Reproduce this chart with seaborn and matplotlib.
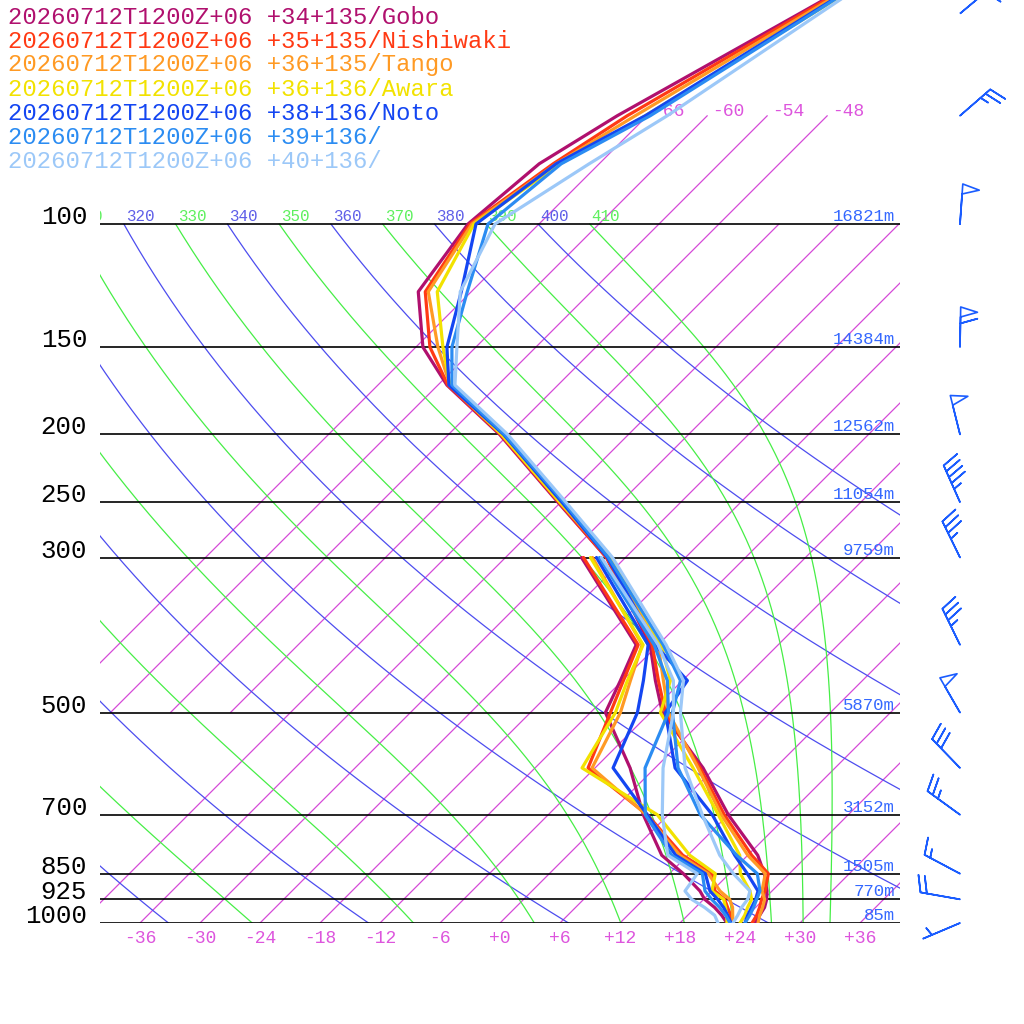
import numpy as np
import matplotlib
matplotlib.use("Agg")
import matplotlib.pyplot as plt
import seaborn as sns

sns.set_theme(style="white")
plt.rcParams['font.family'] = ['Liberation Mono', 'DejaVu Sans Mono']

# ---- data ----
run = "20260712T1200Z+06"
lats = ["+34", "+35", "+36", "+36", "+38", "+39", "+40"]
lons = ["+135", "+135", "+135", "+136", "+136", "+136", "+136"]
names = ["Gobo", "Nishiwaki", "Tango", "Awara", "Noto", "", ""]
colors = ["#b0106e", "#ff3a14", "#ff9a24", "#f2e200", "#1446f2", "#2b8cf2", "#9cc8f8"]

levels = [1000, 975, 950, 925, 900, 850, 800, 700, 600, 500, 450, 400,
          300, 250, 200, 170, 150, 125, 100, 82, 70, 50, 30]
dew_levels = levels[:13]

t_gobo = [25.5, 25.2, 24.9, 24.3, 23.5, 21.5, 19.0, 12.0, 4.8, -4.8, -8.7, -12.8,
          -25.9, -36.3, -48.9, -59.1, -65.3, -71.3, -73.1, -72.0, -69.0, -61.0, -49.0]
t_nishiwaki = [25.2, 24.9, 24.4, 23.8, 23.3, 21.9, 18.4, 11.6, 4.5, -4.5, -8.4, -12.6,
               -25.9, -36.2, -48.8, -59.0, -64.6, -70.6, -72.9, -70.6, -68.0, -60.7, -49.6]
t_tango = [25.8, 25.2, 24.7, 24.1, 23.0, 21.6, 18.0, 11.3, 4.3, -4.2, -7.9, -12.0,
           -25.7, -36.1, -48.7, -58.8, -63.8, -70.3, -72.7, -70.3, -67.2, -60.3, -49.9]
t_awara = [24.0, 23.7, 23.2, 22.8, 21.8, 19.1, 17.2, 11.0, 3.8, -5.0, -7.2, -11.7,
           -25.5, -36.1, -48.7, -58.8, -63.3, -69.4, -72.5, -69.9, -66.2, -59.7, -49.8]
t_noto = [24.5, 24.0, 23.6, 23.2, 22.6, 19.8, 16.7, 10.4, 2.0, -4.5, -5.5, -12.3,
          -25.8, -35.9, -48.5, -58.9, -62.9, -67.0, -72.3, -70.3, -66.2, -59.9, -50.4]
t_p39 = [24.5, 24.2, 23.8, 23.3, 22.8, 20.8, 16.9, 9.2, 2.3, -3.8, -6.2, -11.5,
         -25.7, -35.7, -48.4, -58.6, -62.4, -66.4, -71.1, -69.8, -65.7, -59.7, -50.6]
t_p40 = [23.3, 23.0, 22.6, 22.4, 21.8, 18.4, 15.2, 9.4, 3.0, -3.0, -5.9, -11.2,
         -25.3, -35.5, -48.1, -58.3, -61.9, -67.1, -70.4, -67.0, -64.0, -59.0, -51.3]

td_gobo = [22.7, 21.4, 19.9, 18.1, 16.8, 13.4, 9.4, 3.5, -2.5, -10.5, -12.2, -14.2, -28.4]
td_nishiwaki = [23.3, 22.3, 21.2, 20.1, 18.3, 16.3, 11.5, 3.9, -6.7, -10.0, -11.9, -14.0, -28.2]
td_tango = [23.3, 22.5, 21.7, 20.6, 18.8, 15.9, 11.2, 3.8, -6.3, -9.0, -11.2, -13.6, -27.3]
td_awara = [22.7, 21.9, 21.0, 20.0, 18.0, 16.6, 12.2, 4.9, -7.3, -9.5, -11.5, -13.5, -27.5]
td_noto = [23.1, 22.0, 20.8, 19.4, 17.8, 15.6, 10.8, 3.9, -4.2, -7.3, -9.9, -13.0, -26.9]
td_p39 = [23.0, 21.8, 20.4, 18.8, 17.3, 15.3, 10.4, 3.7, -1.0, -4.2, -7.5, -12.4, -26.6]
td_p40 = [21.8, 20.7, 18.9, 16.8, 15.3, 14.8, 10.0, 5.4, 0.8, -3.7, -6.9, -12.0, -26.4]

temps = [t_gobo, t_nishiwaki, t_tango, t_awara, t_noto, t_p39, t_p40]
dews = [td_gobo, td_nishiwaki, td_tango, td_awara, td_noto, td_p39, td_p40]

# wind barbs (kt, direction wind blows from)
wind_levels = [1000, 925, 850, 700, 600, 500, 400, 300, 250, 200, 150, 100, 70, 50]
wind_speed = [5, 20, 15, 25, 30, 50, 35, 35, 45, 50, 60, 50, 25, 20]
wind_dir = [247, 280, 298, 306, 316, 330, 334, 334, 336, 346, 1, 4, 49, 50]

# labelled pressure lines and heights
std_levels = [1000, 925, 850, 700, 500, 300, 250, 200, 150, 100]
std_heights = [85, 770, 1505, 3152, 5870, 9759, 11054, 12562, 14384, 16821]
theta_dry = [240, 260, 280, 300, 320, 340, 360, 380, 400]
theta_moist = [250, 270, 290, 310, 330, 350, 370, 390, 410]
iso_low = [-42, -36, -30, -24, -18, -12, -6, 0, 6, 12, 18, 24, 30, 36]
iso_high = [-66, -60, -54, -48]
xticks = [-36, -30, -24, -18, -12, -6, 0, 6, 12, 18, 24, 30, 36]

# ---- skew-T geometry ----
K = 69.9          # deg per decade of pressure -> 45 degree isotherms
P_TOP = 1000 / 10 ** (923 / 699)


def skew(t, p):
    return np.asarray(t, float) + K * np.log10(1000.0 / np.asarray(p, float))


def moist_adiabat(theta, p):
    rd, cp, lv, eps = 287.04, 1005.7, 2.501e6, 0.622

    def rate(t, pp):
        es = 6.112 * np.exp(17.67 * (t - 273.15) / (t - 29.65))
        rs = eps * es / (pp - es)
        return (rd * t + lv * rs) / (pp * (cp + lv * lv * rs * eps / (rd * t * t)))

    t = theta * (p[0] / 1000.0) ** 0.286
    out = [t]
    for i in range(1, len(p)):
        dp = p[i] - p[i - 1]
        k1 = rate(t, p[i - 1])
        k2 = rate(t + 0.5 * dp * k1, p[i - 1] + 0.5 * dp)
        t = t + dp * k2
        out.append(t)
    return np.array(out) - 273.15


fig = plt.figure(figsize=(10.24, 10.24), dpi=100)
ax = fig.add_axes([100 / 1024, 101 / 1024, 800 / 1024, 923 / 1024])
ax.set_yscale('log')
ax.set_xlim(-40, 40)
ax.set_ylim(1000, P_TOP)
for s in ax.spines.values():
    s.set_visible(False)

iso_col = "#d54ad8"
blue_col = "#4d4def"
green_col = "#46ee46"

# isotherms
for t in iso_low:
    pp = np.array([1000, 100])
    ax.plot(skew([t, t], pp), pp, color=iso_col, lw=0.9, zorder=1)
for t in iso_high:
    pp = np.array([500, 70])
    ax.plot(skew([t, t], pp), pp, color=iso_col, lw=0.9, zorder=1)
    ax.text(skew(t, 70) + 0.5, 70, str(t), color="#dd55dd", fontsize=13,
            ha='left', va='baseline', clip_on=True, zorder=1)

# dry adiabats and pseudo-adiabats, labelled where they meet 100 hPa
pr = np.linspace(100, 1000, 901)


def theta_label(xpos, text, col):
    if xpos > -43.5:          # skip labels lying wholly left of the frame
        ax.text(xpos + 0.2, 100, text, color=col, fontsize=11.4,
                ha='left', va='bottom', clip_on=True, zorder=1)


for th in theta_dry:
    tt = th * (pr / 1000.0) ** 0.286 - 273.15
    ax.plot(skew(tt, pr), pr, color=blue_col, lw=0.9, zorder=1)
    theta_label(skew(tt[0], 100), str(th), "#5f5fe8")
for th in theta_moist:
    tt = moist_adiabat(th, pr)
    ax.plot(skew(tt, pr), pr, color=green_col, lw=0.9, zorder=1)
    theta_label(skew(tt[0], 100), str(th), "#5ef05e")

# pressure lines, labels and heights
ytr = ax.get_yaxis_transform()
for p, h in zip(std_levels, std_heights):
    ax.axhline(p, color='black', lw=1.2, zorder=2)
    ax.text(-0.016, p, str(p), transform=ytr, ha='right', va='baseline',
            fontsize=18.5, color='black')
    ax.text(39.5, p, f"{h}m", ha='right', va='bottom', fontsize=12.5,
            color="#3468ff", zorder=2)

# profiles: dew point (to 300 hPa) and temperature
for i in range(len(temps)):
    sns.lineplot(x=skew(dews[i], dew_levels), y=dew_levels, sort=False,
                 estimator=None, color=colors[i], lw=2.3, ax=ax, zorder=4 + i)
    sns.lineplot(x=skew(temps[i], levels), y=levels, sort=False,
                 estimator=None, color=colors[i], lw=2.3, ax=ax, zorder=4 + i)

# wind barbs
wd = np.deg2rad(wind_dir)
u = -np.array(wind_speed) * np.sin(wd)
v = -np.array(wind_speed) * np.cos(wd)
ax.barbs(np.full(len(wind_levels), 46.0), wind_levels, u, v, length=7.6,
         barbcolor="#1a5cff", flagcolor='none', linewidth=1.2, clip_on=False,
         sizes=dict(spacing=0.16, height=0.42, width=0.25), zorder=5)

# axis ticks
ax.set_xticks(xticks)
ax.set_xticklabels([f"{t:+d}" for t in xticks])
ax.tick_params(axis='x', length=0, pad=5, labelsize=13, labelcolor="#dd55dd")
ax.tick_params(axis='y', which='both', left=False, labelleft=False)
ax.set_xlabel("")
ax.set_ylabel("")

# header lines
for i in range(len(names)):
    fig.text(8 / 1024, 1 - (17 + 24 * i) / 1024,
             f"{run} {lats[i]}{lons[i]}/{names[i]}",
             color=colors[i], fontsize=17.2, ha='left', va='center')

fig.savefig("out.png", dpi=100)
